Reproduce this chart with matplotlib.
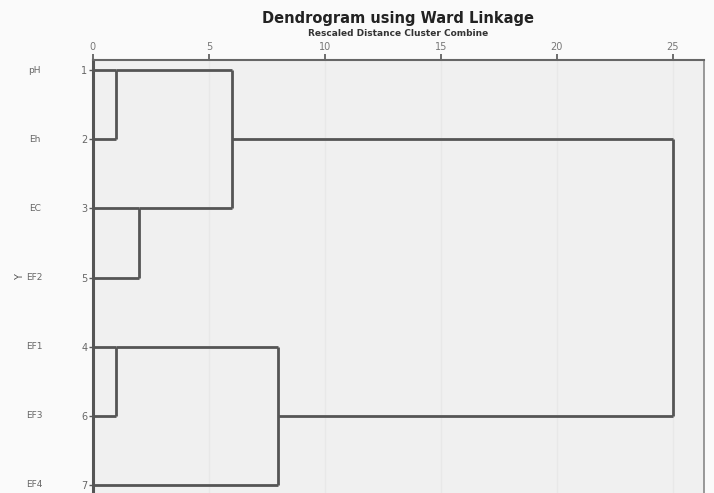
import matplotlib.pyplot as plt

# variables in dendrogram order, with their SPSS case numbers
labels = ['pH', 'Eh', 'EC', 'EF2', 'EF1', 'EF3', 'EF4']
case_nums = ['1', '2', '3', '5', '4', '6', '7']

# merges: (node a, node b, rescaled distance, row where the new cluster line sits)
# leaves are nodes 0..6, new clusters get 7, 8, ...
merges = [
    (0, 1, 1.0, 0),
    (2, 3, 2.0, 2),
    (7, 8, 6.0, 1),
    (4, 5, 1.0, 4),
    (10, 6, 8.0, 5),
    (9, 11, 25.0, 3),
]
xticks = [0, 5, 10, 15, 20, 25]

line_c = '#555555'

fig = plt.figure(figsize=(7.14, 4.93), dpi=100)
fig.patch.set_facecolor('#fafafa')
ax = fig.add_axes([0.130, 0.0, 0.856, 0.878])
ax.set_facecolor('#f0f0f0')

# node positions: row and height
ypos = {i: float(i) for i in range(len(labels))}
hgt = {i: 0.0 for i in range(len(labels))}

for k, (a, b, d, row) in enumerate(merges):
    node = len(labels) + k
    ax.plot([hgt[a], d], [ypos[a], ypos[a]], color=line_c, lw=2.0, solid_capstyle='butt')
    ax.plot([hgt[b], d], [ypos[b], ypos[b]], color=line_c, lw=2.0, solid_capstyle='butt')
    ax.plot([d, d], [ypos[a], ypos[b]], color=line_c, lw=2.0, solid_capstyle='butt')
    ypos[node] = row
    hgt[node] = d

for t in xticks[1:]:
    ax.axvline(t, color='#e8e8e8', lw=1, zorder=0)

ax.set_xlim(0, 26.34)
ax.set_ylim(6.116, -0.145)

ax.xaxis.tick_top()
ax.set_xticks(xticks)
ax.set_xticklabels([str(t) for t in xticks], fontsize=7, color='#777777')
ax.tick_params(axis='x', length=4, width=1.2, color='#555555', pad=2)
ax.set_yticks(range(len(labels)))
ax.set_yticklabels(case_nums, fontsize=7, color='#666666')
ax.tick_params(axis='y', length=3, width=1, color='#555555', pad=1)

ax.spines['left'].set_linewidth(2.2)
ax.spines['left'].set_color(line_c)
ax.spines['top'].set_linewidth(1.5)
ax.spines['top'].set_color('#666666')
ax.spines['right'].set_linewidth(1.2)
ax.spines['right'].set_color('#888888')
ax.spines['bottom'].set_visible(False)

for i, lab in enumerate(labels):
    ax.text(-2.5, i, lab, fontsize=6.5, color='#666666',
            ha='center', va='center', clip_on=False)

fig.text(0.028, 0.438, 'Y', rotation=90, fontsize=7, color='#555555', ha='center', va='center')

fig.text(0.558, 0.962, 'Dendrogram using Ward Linkage', fontsize=10.5, fontweight='bold',
         ha='center', va='center', color='#222222')
fig.text(0.558, 0.932, 'Rescaled Distance Cluster Combine', fontsize=6.5, fontweight='bold',
         ha='center', va='center', color='#333333')

fig.savefig('out.png', dpi=100)
